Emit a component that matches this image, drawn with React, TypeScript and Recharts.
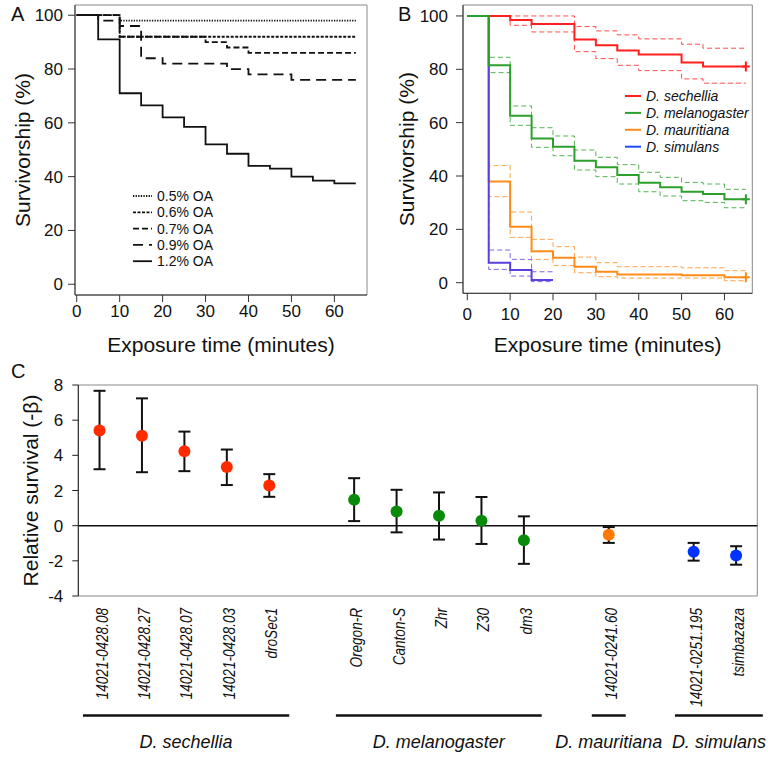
import React from 'react';
import {
  LineChart, Line, XAxis, YAxis, ReferenceArea, ReferenceLine, Legend,
  ScatterChart, Scatter, ErrorBar,
} from 'recharts';

const FONT = '"Liberation Sans", Arial, Helvetica, sans-serif';

// ---- Panel A: survivorship at different OA concentrations ----
const TIMES = [0, 5, 10, 15, 20, 25, 30, 35, 40, 45, 50, 55, 60, 65];
const X_TICKS = [0, 10, 20, 30, 40, 50, 60];
const Y_TICKS = [0, 20, 40, 60, 80, 100];

const OA_LABELS = ['0.5% OA', '0.6% OA', '0.7% OA', '0.9% OA', '1.2% OA'];
const OA_05 = [100, 100, 98, 98, 98, 98, 98, 98, 98, 98, 98, 98, 98, 98];
const OA_06 = [100, 100, 92, 92, 92, 92, 92, 92, 92, 92, 92, 92, 92, 92];
const OA_07 = [100, 100, 92, 92, 92, 92, 90, 88, 86, 86, 86, 86, 86, 86];
const OA_09 = [100, 98, 96, 84, 82, 82, 82, 80, 78, 78, 76, 76, 76, 76];
const OA_12 = [100, 91, 71, 66.5, 62, 58.5, 52, 48.5, 44, 43, 40, 38.5, 37.5, 37.5];
const OA_DASH = ['1.3 1.3', '3 1.5', '6 3', '10 6', undefined];

// ---- Panel B: survivorship per species with confidence bands ----
const SPECIES = ['D. sechellia', 'D. melanogaster', 'D. mauritiana', 'D. simulans'];
const SEC = [100, 100, 98.5, 97, 97, 91.2, 89, 87, 85.5, 85.5, 82.5, 81, 81, 81];
const SEC_HI = [100, 100, 100, 100, 100, 96, 94.4, 92.9, 91.4, 91.4, 89.4, 87.9, 87.9, 87.9];
const SEC_LO = [100, 100, 96.5, 94, 94, 86.6, 84, 81.5, 79.5, 79.5, 76.4, 74.8, 74.8, 74.8];
const MEL = [100, 81.5, 62.6, 54.1, 51, 45.75, 43.25, 40.4, 37.5, 35.75, 34.1, 33.25, 31.25, 31.25];
const MEL_HI = [100, 84.5, 66.25, 58.1, 55, 49.75, 47, 44.25, 41.4, 39.5, 37.6, 37, 35, 35];
const MEL_LO = [100, 78.75, 59, 50.75, 47.6, 42.25, 39.75, 37, 34.1, 32.5, 30.75, 30.1, 28.1, 28.1];
const MAU = [100, 37.9, 21, 11.75, 9.4, 6, 4.1, 3.1, 3.1, 3.1, 2.75, 2.75, 2, 2];
const MAU_HI = [100, 43.9, 26.5, 16.25, 13.5, 9.6, 7.5, 6, 6, 6, 5.6, 5.6, 4.5, 4.5];
const MAU_LO = [100, 32.25, 17, 8.75, 6.4, 3.75, 2.25, 1.75, 1.75, 1.75, 1.75, 1.75, 0.75, 0.75];
const SIM = [100, 7.5, 4.75, 1, 1, null, null, null, null, null, null, null, null, null];
const SIM_HI = [100, 12.25, 8.75, 4.1, 4.1, null, null, null, null, null, null, null, null, null];
const SIM_LO = [100, 5, 2.5, 0.4, 0.4, null, null, null, null, null, null, null, null, null];

const LINE_COLORS = ['#ff1f1f', '#2ca02c', '#ff8c1a', '#5a3fdc'];
const LEGEND_COLORS = ['#ff1f1f', '#2ca02c', '#ff8c1a', '#1f4cff'];

// ---- Panel C: relative survival per strain ----
const STRAINS = [
  '14021-0428.08', '14021-0428.27', '14021-0428.07', '14021-0428.03', 'droSec1',
  'Oregon-R', 'Canton-S', 'Zhr', 'Z30', 'dm3',
  '14021-0241.60',
  '14021-0251.195', 'tsimbazaza',
];
const STRAIN_SPECIES = [0, 0, 0, 0, 0, 1, 1, 1, 1, 1, 2, 3, 3];
const SLOT = [0, 1, 2, 3, 4, 6, 7, 8, 9, 10, 12, 14, 15];
const BETA = [5.41, 5.12, 4.23, 3.33, 2.29, 1.47, 0.81, 0.57, 0.28, -0.83, -0.51, -1.49, -1.7];
const BETA_HI = [7.67, 7.24, 5.35, 4.33, 2.93, 2.7, 2.04, 1.89, 1.63, 0.53, -0.08, -0.98, -1.17];
const BETA_LO = [3.21, 3.04, 3.1, 2.31, 1.64, 0.26, -0.38, -0.79, -1.04, -2.17, -0.98, -1.99, -2.22];
const POINT_COLORS = ['#ff2a00', '#0a8a0a', '#ff7a00', '#0033ff'];
const BETA_TICKS = [-4, -2, 0, 2, 4, 6, 8];

// group underline extents (in slot units) and level below the axis
const GROUP_SPANS = [[-0.39, 4.47], [5.57, 10.42], [11.6, 12.4], [13.56, 15.63]];
const GROUP_Y = -10.8;

const tableA = TIMES.map((t, i) => ({
  t, oa05: OA_05[i], oa06: OA_06[i], oa07: OA_07[i], oa09: OA_09[i], oa12: OA_12[i],
}));
const OA_KEYS = ['oa05', 'oa06', 'oa07', 'oa09', 'oa12'];

const tableB = TIMES.map((t, i) => ({
  t,
  sec: SEC[i], secHi: SEC_HI[i], secLo: SEC_LO[i],
  mel: MEL[i], melHi: MEL_HI[i], melLo: MEL_LO[i],
  mau: MAU[i], mauHi: MAU_HI[i], mauLo: MAU_LO[i],
  sim: SIM[i], simHi: SIM_HI[i], simLo: SIM_LO[i],
}));
const B_KEYS = ['sec', 'mel', 'mau', 'sim'];

const cPoints = STRAINS.map((name, i) => ({
  name,
  slot: SLOT[i],
  beta: BETA[i],
  err: [BETA[i] - BETA_LO[i], BETA_HI[i] - BETA[i]],
  sp: STRAIN_SPECIES[i],
}));

const tickStyle = { fontSize: 17, fill: '#111' };

const plusDot = (color: string, last: number) => (p: any) => {
  const { cx, cy, index } = p;
  if (index !== last || cx == null || cy == null) return <g key={`d${index}`} />;
  return (
    <path key={`d${index}`} d={`M${cx - 4},${cy}H${cx + 4}M${cx},${cy - 5}V${cy + 5}`}
      stroke={color} strokeWidth={2} fill="none" />
  );
};

const LegendA = () => (
  <svg width={130} height={86} style={{ display: 'block' }}>
    {OA_LABELS.map((lab, i) => (
      <g key={lab}>
        <line x1={0} x2={19} y1={8 + i * 16.3} y2={8 + i * 16.3} stroke="#111"
          strokeWidth={1.8} strokeDasharray={OA_DASH[i]} />
        <text x={24} y={8 + i * 16.3} dy="0.36em" fontSize={14} fill="#111">{lab}</text>
      </g>
    ))}
  </svg>
);

const LegendB = () => (
  <svg width={140} height={72} style={{ display: 'block' }}>
    {SPECIES.map((lab, i) => (
      <g key={lab}>
        <line x1={0} x2={16} y1={8 + i * 16.9} y2={8 + i * 16.9} stroke={LEGEND_COLORS[i]} strokeWidth={2} />
        <text x={21} y={8 + i * 16.9} dy="0.36em" fontSize={14} fontStyle="italic" fill="#111">{lab}</text>
      </g>
    ))}
  </svg>
);

// rotated, slightly condensed strain names under panel C
const StrainTick = (props: any) => {
  const { x, y, payload } = props;
  const idx = SLOT.indexOf(payload.value);
  const y0 = y + 12;
  return (
    <text x={0} y={0} dy={8} transform={`translate(${x}, ${y0}) rotate(-90) scale(0.87, 1)`} textAnchor="end"
      fontSize={15.6} fontStyle="italic" fill="#111">
      {STRAINS[idx]}
    </text>
  );
};

const PanelA = () => (
  <LineChart width={384} height={360} data={tableA} margin={{ top: 5, right: 17, bottom: 35, left: 0 }}>
    <ReferenceArea x1={-0.4} x2={67.6} y1={-4} y2={103.8} fill="none" stroke="#888" strokeWidth={1} />
    <XAxis dataKey="t" type="number" domain={[-0.4, 67.6]} ticks={X_TICKS} allowDataOverflow interval={0}
      height={30} tickSize={7} tickMargin={3} tick={tickStyle} stroke="#333"
      label={{ value: 'Exposure time (minutes)', position: 'bottom', offset: 12, fontSize: 21, fill: '#111' }} />
    <YAxis type="number" domain={[-4, 103.8]} ticks={Y_TICKS} allowDataOverflow interval={0}
      width={75} tickSize={7} tickMargin={5} tick={tickStyle} stroke="#333"
      label={{ value: 'Survivorship (%)', angle: -90, position: 'insideLeft', offset: 22.5, fontSize: 21, fill: '#111', style: { textAnchor: 'middle' } }} />
    {OA_KEYS.map((k, i) => (
      <Line key={k} type="stepAfter" dataKey={k} stroke="#111" strokeWidth={1.8}
        strokeDasharray={OA_DASH[i]} dot={false} isAnimationActive={false} />
    ))}
    <Legend content={() => <LegendA />} layout="vertical" align="center" verticalAlign="middle"
      wrapperStyle={{ left: 132.7, top: 188, width: 130, height: 86 }} />
  </LineChart>
);

const PanelB = () => (
  <LineChart width={384} height={360} data={tableB} margin={{ top: 5, right: 15.7, bottom: 36.7, left: 0 }}>
    <ReferenceArea x1={-1} x2={66.5} y1={-3.97} y2={104.1} fill="none" stroke="#888" strokeWidth={1} />
    <XAxis dataKey="t" type="number" domain={[-1, 66.5]} ticks={X_TICKS} allowDataOverflow interval={0}
      height={30} tickSize={7} tickMargin={8} tick={tickStyle} stroke="#333"
      label={{ value: 'Exposure time (minutes)', position: 'bottom', offset: 13.4, fontSize: 21, fill: '#111' }} />
    <YAxis type="number" domain={[-3.97, 104.1]} ticks={Y_TICKS} allowDataOverflow interval={0}
      width={79} tickSize={7} tickMargin={8} tick={tickStyle} stroke="#333"
      label={{ value: 'Survivorship (%)', angle: -90, position: 'insideLeft', offset: 22.5, fontSize: 21, fill: '#111', style: { textAnchor: 'middle' } }} />
    {B_KEYS.map((k, i) => (
      <Line key={`${k}Hi`} type="stepAfter" dataKey={`${k}Hi`} stroke={LINE_COLORS[i]} strokeWidth={1}
        strokeOpacity={0.8} strokeDasharray="5 3" dot={false} isAnimationActive={false} legendType="none" />
    ))}
    {B_KEYS.map((k, i) => (
      <Line key={`${k}Lo`} type="stepAfter" dataKey={`${k}Lo`} stroke={LINE_COLORS[i]} strokeWidth={1}
        strokeOpacity={0.8} strokeDasharray="5 3" dot={false} isAnimationActive={false} legendType="none" />
    ))}
    {[2, 3, 0, 1].map((i) => (
      <Line key={B_KEYS[i]} type="stepAfter" dataKey={B_KEYS[i]} stroke={LINE_COLORS[i]} strokeWidth={2}
        dot={i === 3 ? false : plusDot(LINE_COLORS[i], TIMES.length - 1)} isAnimationActive={false} />
    ))}
    <Legend content={() => <LegendB />} layout="vertical" align="center" verticalAlign="middle"
      wrapperStyle={{ left: 241, top: 88, width: 140, height: 72 }} />
  </LineChart>
);

const PanelC = () => (
  <ScatterChart width={768} height={397} margin={{ top: 25, right: 10.7, bottom: 51, left: 0 }}>
    <ReferenceArea x1={-0.5} x2={15.5} y1={-4} y2={8} fill="none" stroke="#888" strokeWidth={1} />
    <ReferenceLine y={0} stroke="#111" strokeWidth={1.5} />
    <XAxis type="number" dataKey="slot" domain={[-0.5, 15.5]} ticks={SLOT} allowDataOverflow interval={0}
      axisLine={false} tickLine={false} tickSize={0} tickMargin={0} height={110} tick={<StrainTick />} />
    <YAxis type="number" dataKey="beta" domain={[-4, 8]} ticks={BETA_TICKS} allowDataOverflow interval={0}
      width={78.3} tickSize={6} tickMargin={9} tick={tickStyle} stroke="#222"
      label={{ value: 'Relative survival (-β)', angle: -90, position: 'insideLeft', offset: 31, fontSize: 21, fill: '#111', style: { textAnchor: 'middle' } }} />
    {SPECIES.map((s, k) => (
      <Scatter key={s} name={s} data={cPoints.filter((p) => p.sp === k)} fill={POINT_COLORS[k]}
        isAnimationActive={false}
        shape={(p: any) => <circle cx={p.cx} cy={p.cy} r={6} fill={POINT_COLORS[k]} />}>
        <ErrorBar dataKey="err" direction="y" width={6} stroke="#111" strokeWidth={2} isAnimationActive={false} />
      </Scatter>
    ))}
    {SPECIES.map((s, k) => (
      <ReferenceLine key={`g${k}`} ifOverflow="visible" stroke="#111" strokeWidth={2.6}
        segment={[{ x: GROUP_SPANS[k][0], y: GROUP_Y }, { x: GROUP_SPANS[k][1], y: GROUP_Y }]}
        label={{ value: s, position: 'bottom', offset: 20, fontSize: 18, fontStyle: 'italic', fill: '#111' }} />
    ))}
  </ScatterChart>
);

const letter = (txt: string, left: number, top: number) => (
  <div style={{ position: 'absolute', left, top, fontSize: 20, lineHeight: '20px', color: '#111' }}>{txt}</div>
);

export default function App() {
  return (
    <div style={{ position: 'absolute', left: 0, top: 0, width: 768, height: 757, background: '#fff', fontFamily: FONT, overflow: 'hidden' }}>
      <div style={{ position: 'absolute', left: 0, top: 0 }}><PanelA /></div>
      <div style={{ position: 'absolute', left: 384, top: 0 }}><PanelB /></div>
      <div style={{ position: 'absolute', left: 0, top: 360 }}><PanelC /></div>
      {letter('A', 11, 4)}
      {letter('B', 398, 4)}
      {letter('C', 11, 361)}
    </div>
  );
}
